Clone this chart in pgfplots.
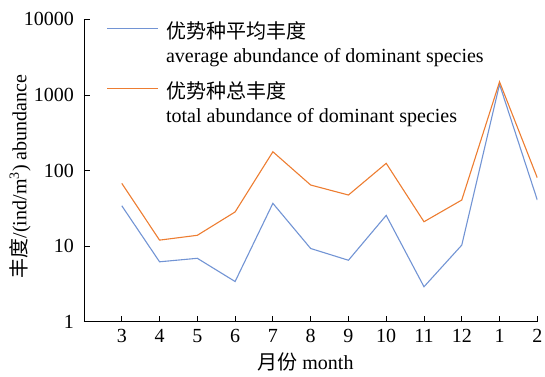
\documentclass[border=0pt]{standalone}
\usepackage{fontspec}
\setmainfont{Liberation Serif}
\newfontfamily\cjk{Noto Sans CJK SC}
\usepackage{pgfplots}
\pgfplotsset{compat=1.18}

\definecolor{avgblue}{RGB}{114,148,212}
\definecolor{totorange}{RGB}{237,125,49}

\newcommand{\lblfont}{\fontsize{20}{24}\selectfont}
% two-line legend text: Chinese name above, English name below (baseline on the last line)
\newcommand{\twoline}[2]{\begin{tabular}[b]{@{}l@{}}{\cjk #1}\\[-0.5pt]#2\end{tabular}}

\begin{document}
\begin{tikzpicture}
\useasboundingbox (-84pt,-54.3pt) rectangle (461pt,321.7pt);
\begin{axis}[
  at={(0pt,0pt)}, anchor=south west,
  scale only axis, width=453.3pt, height=302.4pt,
  ymode=log, ymin=1, ymax=10000,
  xmin=-1, xmax=11,
  axis lines=left,
  axis line style={-, line width=0.8pt, black},
  tick align=inside, major tick length=6pt,
  tick style={black, line width=0.8pt},
  yminorticks=false,
  ytick={1,10,100,1000,10000},
  yticklabels={1,10,100,1000,10000},
  xtick={0,1,2,3,4,5,6,7,8,9,10,11},
  xticklabels={3,4,5,6,7,8,9,10,11,12,1,2},
  tick label style={font=\lblfont},
  yticklabel style={anchor=east, inner sep=0pt, xshift=-10pt},
  xticklabel style={anchor=base, inner sep=0pt, yshift=-20.3pt},
  xlabel={{\cjk 月份} month},
  ylabel={{\cjk 丰度}/(ind/m\textsuperscript{3}) abundance},
  label style={font=\lblfont},
  xlabel style={at={(axis description cs:0.4886,-0.1564)}, anchor=base},
  ylabel style={at={(axis description cs:-0.1412,0.48)}, anchor=center},
  legend style={draw=none, fill=none,
    at={(axis description cs:0,1)}, anchor=north west,
    xshift=22.7pt, yshift=-0.5pt,
    inner sep=0pt, outer sep=0pt, row sep=14pt, column sep=5.5pt,
    font=\lblfont,
    cells={anchor=base west, inner sep=0pt}},
  legend image code/.code={\draw[#1] (0pt,33.3pt) -- (50.8pt,33.3pt);},
]
% average abundance of dominant species
\addplot[avgblue, line width=1.1pt] coordinates {
  (0,34.2) (1,6.2) (2,6.9) (3,3.4) (4,36.8) (5,9.3)
  (6,6.5) (7,25.5) (8,2.9) (9,10.3) (10,1380) (11,40.7)
};
\addlegendentry{\twoline{优势种平均丰度}{average abundance of dominant species}}
% total abundance of dominant species
\addplot[totorange, line width=1.1pt] coordinates {
  (0,67.7) (1,12.0) (2,13.9) (3,28.3) (4,177) (5,64.3)
  (6,47.4) (7,124.5) (8,21.0) (9,40.7) (10,1490) (11,80)
};
\addlegendentry{\twoline{优势种总丰度}{total abundance of dominant species}}
\end{axis}
\end{tikzpicture}
\end{document}
